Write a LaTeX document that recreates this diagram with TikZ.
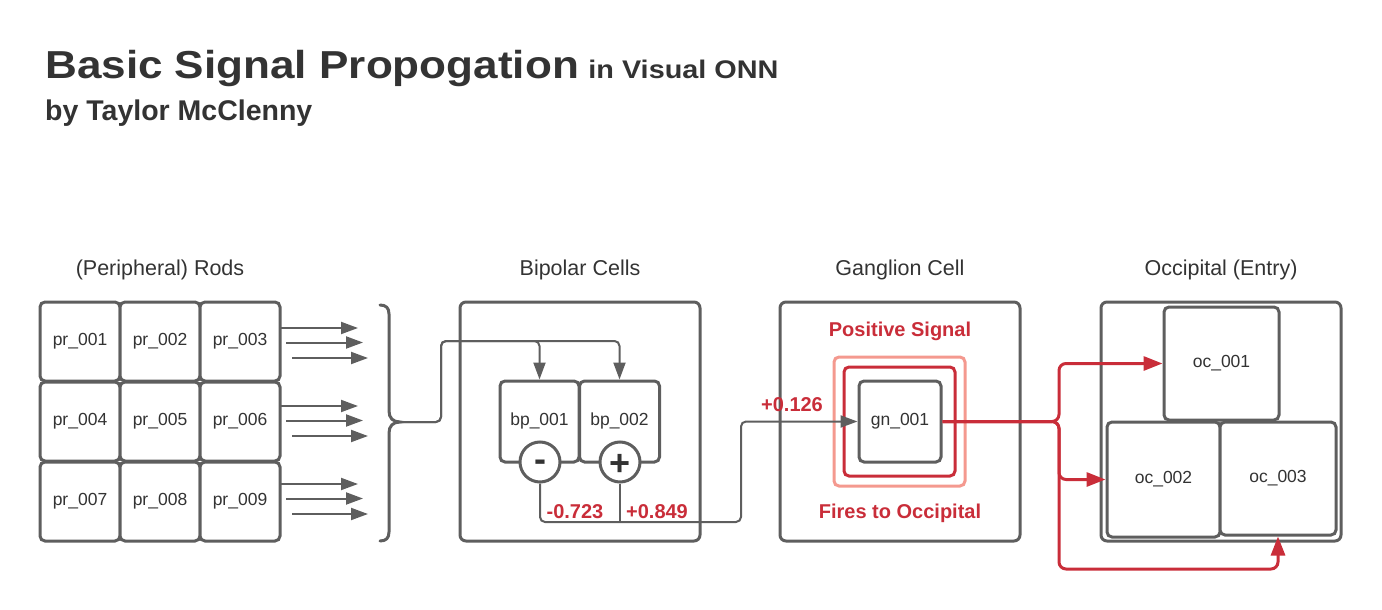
\documentclass[tikz,border=0pt]{standalone}
\usepackage{fontspec}
\setmainfont{Liberation Sans}
\newfontfamily\ttlfamily[FakeStretch=1.13]{Liberation Sans}
\usetikzlibrary{arrows.meta}
\definecolor{gline}{HTML}{5E5E5E}
\definecolor{txt}{HTML}{333333}
\definecolor{lred}{HTML}{C92D39}
\definecolor{lpink}{HTML}{F4998F}
\newcommand\lblfont{\fontsize{17.5}{20}\selectfont}
\newcommand\hdfont{\fontsize{21.5}{24}\selectfont}
\newcommand\redfont{\fontsize{20}{22}\selectfont\bfseries}
\begin{document}
\begin{tikzpicture}[x=1pt,y=-1pt,
  cellbox/.style={draw=gline, line width=3pt, rounded corners=5pt, fill=white, inner sep=0pt, text=txt, font=\lblfont},
  bigbox/.style={draw=gline, line width=3pt, rounded corners=6pt, inner sep=0pt, minimum width=240pt, minimum height=239pt},
  hd/.style={text=txt, font=\hdfont, inner sep=0pt},
  redlbl/.style={text=lred, font=\redfont, inner sep=0pt},
  gconn/.style={draw=gline, line width=2pt, rounded corners=5pt},
  garrow/.style={gconn, -{Triangle[length=17pt,width=12pt]}},
  rconn/.style={draw=lred, line width=3pt, rounded corners=7pt, -{Triangle[length=19pt,width=14pt]}},
  signbox/.style={circle, draw=gline, line width=3pt, fill=white, minimum size=40pt, inner sep=0pt, text=txt}
]
\useasboundingbox (0,0) rectangle (1382,610);

% titles
\node[anchor=base west, inner sep=0pt, text=txt, font=\ttlfamily\bfseries\fontsize{39}{44}\selectfont] (title) at (45,79) {Basic Signal Propogation};
\node[anchor=base west, inner sep=0pt, text=txt, font=\ttlfamily\bfseries\fontsize{25.5}{28}\selectfont] (subtitle) at ([xshift=9pt]title.base east) {in Visual ONN};
\node[anchor=base west, inner sep=0pt, text=txt, font=\bfseries\fontsize{28.5}{32}\selectfont] (author) at (45,121) {by Taylor McClenny};

% section headings
\node[hd] (hrods) at (160,270) {(Peripheral) Rods};
\node[hd] (hbip) at (580,270) {Bipolar Cells};
\node[hd] (hgan) at (900,270) {Ganglion Cell};
\node[hd] (hocc) at (1221,270) {Occipital (Entry)};

% outer boxes
\node[bigbox] (bip) at (580,421.5) {};
\node[bigbox] (gan) at (900,421.5) {};
\node[bigbox] (occ) at (1221,421.5) {};

% rods grid
\foreach \n/\x/\y in {001/80/341.5,002/160/341.5,003/240/341.5,004/80/421.5,005/160/421.5,006/240/421.5,007/80/501.5,008/160/501.5,009/240/501.5}{
  \node[cellbox, minimum width=80pt, minimum height=79pt] (pr\n) at (\x,\y) {pr\_\n};
}

% rod arrows
\foreach \r/\b in {1/328,2/406,3/484}{
  \coordinate (ra\r s) at (280,\b);
  \coordinate (ra\r e) at (358,\b);
  \coordinate (rb\r s) at (286,\b+14.5);
  \coordinate (rb\r e) at (363,\b+14.5);
  \coordinate (rc\r s) at (292,\b+30);
  \coordinate (rc\r e) at (368,\b+30);
  \draw[garrow] (ra\r s) -- (ra\r e);
  \draw[garrow] (rb\r s) -- (rb\r e);
  \draw[garrow] (rc\r s) -- (rc\r e);
}

% brace
\coordinate (bracetip) at (400,422);
\draw[draw=gline, line width=3pt, line cap=round]
  (380,305) .. controls (386,305) and (389,308) .. (389,314) -- (389,411)
  .. controls (389,418) and (393,422) .. (bracetip)
  .. controls (393,422) and (389,426) .. (389,433) -- (389,532)
  .. controls (389,538) and (386,541) .. (380,541);

% bipolar cells
\node[cellbox, minimum width=79pt, minimum height=81pt, text depth=0pt, text height=12pt] (bp1) at (539.5,421.5) {\raisebox{2pt}{bp\_001}};
\node[cellbox, minimum width=80pt, minimum height=81pt, text depth=0pt, text height=12pt] (bp2) at (619.5,421.5) {\raisebox{2pt}{bp\_002}};
\node[signbox, font=\bfseries\fontsize{36}{36}\selectfont, text height=18pt, text depth=0pt] (m1) at (540,462) {-};
\node[signbox, font=\bfseries\fontsize{36}{36}\selectfont, text height=26pt, text depth=0pt] (p1) at (620,462) {+};

\coordinate (jb) at (441,422);
\coordinate (jt) at (441,341);
\draw[garrow] (bracetip) -- (jb) -- (jt) -| (bp1.north);
\draw[garrow] (bracetip) -- (jb) -- (jt) -| (bp2.north);

% ganglion
\node[draw=lpink, line width=3pt, rounded corners=5pt, minimum width=131pt, minimum height=129pt, inner sep=0pt] (pinksq) at (899.5,421.5) {};
\node[draw=lred, line width=3pt, rounded corners=5pt, minimum width=111pt, minimum height=109pt, inner sep=0pt] (redsq) at (899.5,421.5) {};
\node[cellbox, minimum width=82pt, minimum height=81pt] (gn) at (900,421.5) {gn\_001};
\node[redlbl] (pos) at (900,331) {Positive Signal};
\node[redlbl] (fires) at (900,513) {Fires to Occipital};

\coordinate (jr) at (741,522);
\draw[gconn] (p1.south) -- (p1.south |- jr);
\draw[garrow] (m1.south) |- (jr) |- (gn.west);
\node[redlbl] (w1) at (575,512) {-0.723};
\node[redlbl] (w2) at (657,512) {+0.849};
\node[redlbl] (w3) at (792,405) {+0.126};

% occipital
\node[cellbox, minimum width=115pt, minimum height=113pt] (oc1) at (1221.5,363.5) {oc\_001};
\node[cellbox, minimum width=113pt, minimum height=115pt] (oc2) at (1163.5,479.5) {oc\_002};
\node[cellbox, minimum width=116pt, minimum height=113pt] (oc3) at (1278,478.5) {oc\_003};

\coordinate (jg) at (1059,421.5);
\coordinate (low) at (1059,569);
\draw[rconn] (gn.east) -- (jg) |- (oc1.west);
\draw[rconn] (gn.east) -- (jg) |- (oc2.west);
\draw[rconn] (gn.east) -- (jg) -- (low) -| (oc3.south);
\end{tikzpicture}
\end{document}
